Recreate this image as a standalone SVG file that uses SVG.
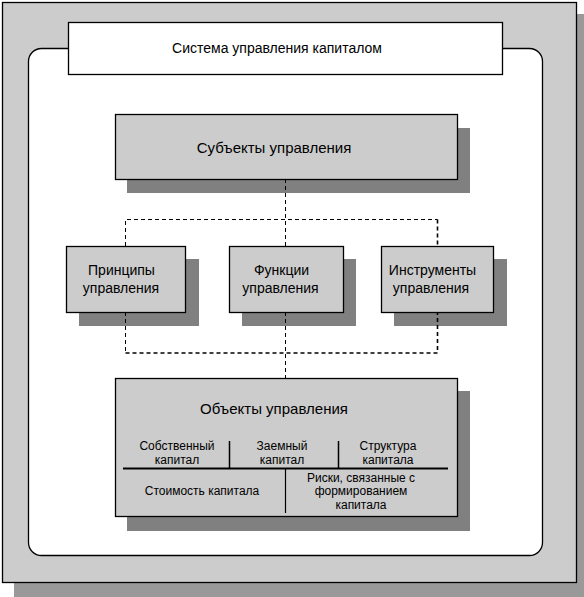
<svg xmlns="http://www.w3.org/2000/svg" width="584" height="597" viewBox="0 0 584 597">
<style>
text{font-family:"Liberation Sans",Arial,sans-serif;fill:#000;text-anchor:middle}
.box{fill:#cccccc;stroke:#000;stroke-width:1.3}
.sh{fill:#808080}
.big{font-size:15px}
.mid{font-size:14px}
.sm{font-size:12px}
.dash{fill:none;stroke:#000;stroke-width:1;stroke-dasharray:4,3}
.dash2{fill:none;stroke:#000;stroke-width:1.6;stroke-dasharray:4,3}
</style>
<rect x="14" y="14" width="570" height="583" fill="#999999"/>
<rect x="2.5" y="2.5" width="574" height="580" fill="#cccccc" stroke="#000" stroke-width="1.3"/>
<rect x="28.5" y="48.5" width="514" height="507" rx="13" ry="13" fill="#fff" stroke="#000" stroke-width="1.3"/>
<g id="title">
<rect x="68.5" y="22.5" width="434" height="52" fill="#fff" stroke="#000" stroke-width="1.3"/>
<text x="277" y="53" font-size="14">Система управления капиталом</text>
</g>
<g id="shadows">
<rect class="sh" x="127" y="128" width="343" height="65"/>
<rect class="sh" x="79" y="259" width="120" height="67"/>
<rect class="sh" x="242" y="259" width="114" height="67"/>
<rect class="sh" x="394" y="259" width="113" height="67"/>
<rect class="sh" x="127" y="391" width="343" height="140"/>
</g>
<g id="connectors">
<path class="dash" d="M285.5 179 V378"/>
<path class="dash" d="M125.5 246 V219.5 H437.5"/>
<path class="dash2" d="M437.5 219.5 V246"/>
<path class="dash" d="M125.5 312 V353"/>
<path class="dash2" d="M125.5 353 H437.5 V312"/>
</g>
<g id="subjects">
<rect class="box" x="115.5" y="114.5" width="342" height="65"/>
<text class="big" x="274" y="152.5">Субъекты управления</text>
</g>
<g id="principles">
<rect class="box" x="66.5" y="246.5" width="119" height="66"/>
<text class="mid" x="121.5" y="275">Принципы</text>
<text class="mid" x="121" y="293">управления</text>
</g>
<g id="functions">
<rect class="box" x="229.5" y="246.5" width="114" height="66"/>
<text class="mid" x="281.5" y="275">Функции</text>
<text class="mid" x="280.5" y="293">управления</text>
</g>
<g id="instruments">
<rect class="box" x="381.5" y="246.5" width="112" height="66"/>
<text class="mid" x="432.5" y="275">Инструменты</text>
<text class="mid" x="431" y="293">управления</text>
</g>
<g id="objects">
<rect class="box" x="115.5" y="378.5" width="342" height="138"/>
<text class="big" x="274" y="414">Объекты управления</text>
<line x1="123" y1="468.5" x2="448" y2="468.5" stroke="#000" stroke-width="2"/>
<line x1="229.5" y1="441" x2="229.5" y2="468" stroke="#000" stroke-width="1.5"/>
<line x1="338.5" y1="441" x2="338.5" y2="468" stroke="#000" stroke-width="1.5"/>
<line x1="285.5" y1="469" x2="285.5" y2="513" stroke="#000" stroke-width="1.2"/>
<text class="sm" x="177" y="450">Собственный</text>
<text class="sm" x="177" y="464">капитал</text>
<text class="sm" x="282" y="450">Заемный</text>
<text class="sm" x="282" y="464">капитал</text>
<text class="sm" x="388" y="450">Структура</text>
<text class="sm" x="388" y="464">капитала</text>
<text class="sm" x="202" y="495">Стоимость капитала</text>
<text class="sm" x="361" y="482">Риски, связанные с</text>
<text class="sm" x="361" y="495">формированием</text>
<text class="sm" x="361" y="509">капитала</text>
</g>
</svg>
